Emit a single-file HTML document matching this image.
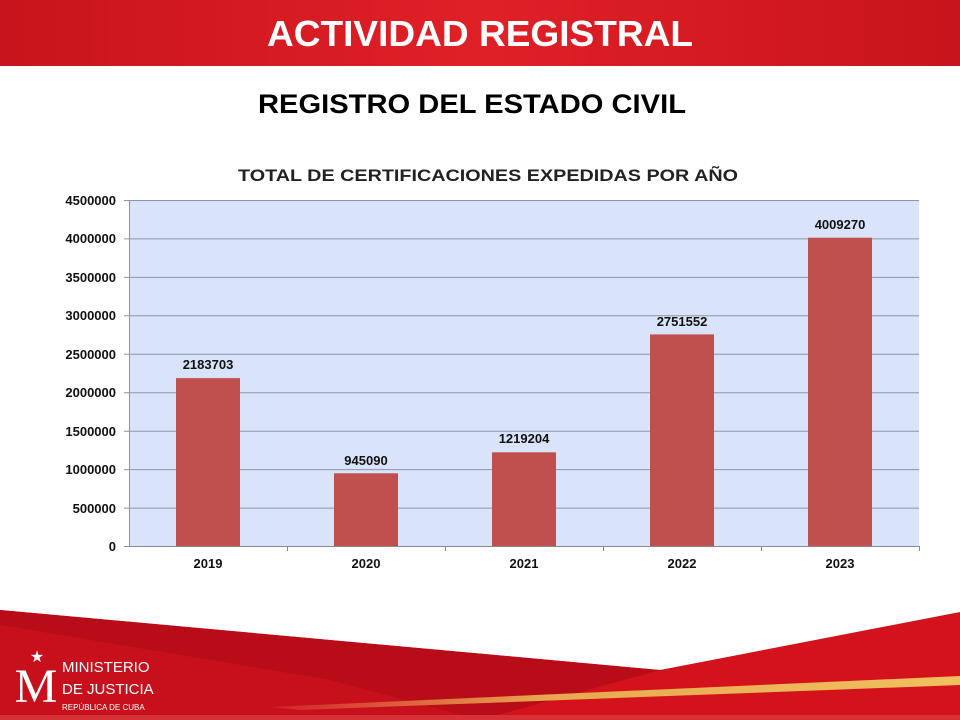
<!DOCTYPE html>
<html><head><meta charset="utf-8"><style>
body{margin:0;width:960px;height:720px;overflow:hidden;background:#fff;font-family:"Liberation Sans",Arial,sans-serif;position:relative}
</style></head><body>
<svg width="960" height="720" style="position:absolute;left:0;top:0">
<defs>
<linearGradient id="hd" x1="0" x2="1"><stop offset="0" stop-color="#c8141c"/><stop offset="0.5" stop-color="#e02027"/><stop offset="1" stop-color="#c8141c"/></linearGradient>
<linearGradient id="gold" x1="0" x2="1"><stop offset="0" stop-color="#d2202a"/><stop offset="0.4" stop-color="#e8a850"/><stop offset="1" stop-color="#f0c060"/></linearGradient>
</defs>
<rect x="0" y="0" width="960" height="66" fill="url(#hd)"/>
<text x="267" y="46" textLength="426" lengthAdjust="spacingAndGlyphs" font-size="36" font-weight="bold" fill="#fff">ACTIVIDAD REGISTRAL</text>
<text x="258" y="113" textLength="428" lengthAdjust="spacingAndGlyphs" font-size="27" font-weight="bold" fill="#000">REGISTRO DEL ESTADO CIVIL</text>
<text x="238" y="181" textLength="500" lengthAdjust="spacingAndGlyphs" font-size="17" font-weight="bold" fill="#222">TOTAL DE CERTIFICACIONES EXPEDIDAS POR AÑO</text>
<rect x="129" y="200" width="790" height="346" fill="#d9e4fb"/>
<g stroke="#8a96aa" stroke-width="1">
<line x1="124" x2="919" y1="200.5" y2="200.5"/><line x1="124" x2="919" y1="238.9" y2="238.9"/><line x1="124" x2="919" y1="277.4" y2="277.4"/><line x1="124" x2="919" y1="315.8" y2="315.8"/><line x1="124" x2="919" y1="354.3" y2="354.3"/><line x1="124" x2="919" y1="392.7" y2="392.7"/><line x1="124" x2="919" y1="431.2" y2="431.2"/><line x1="124" x2="919" y1="469.6" y2="469.6"/><line x1="124" x2="919" y1="508.1" y2="508.1"/>
<line x1="129.5" x2="129.5" y1="200" y2="546"/>
</g>
<g fill="#c0504d">
<rect x="176" y="378.1" width="64" height="167.9"/>
<rect x="334" y="473.3" width="64" height="72.7"/>
<rect x="492" y="452.3" width="64" height="93.7"/>
<rect x="650" y="334.4" width="64" height="211.6"/>
<rect x="808" y="237.7" width="64" height="308.3"/>
</g>
<g stroke="#888"><line x1="124" x2="919" y1="546.5" y2="546.5"/>
<line x1="287.5" x2="287.5" y1="546" y2="551"/><line x1="445.5" x2="445.5" y1="546" y2="551"/><line x1="603.5" x2="603.5" y1="546" y2="551"/><line x1="761.5" x2="761.5" y1="546" y2="551"/><line x1="919.5" x2="919.5" y1="546" y2="551"/></g>
<g font-size="13" font-weight="bold" fill="#111" text-anchor="end">
<text x="116" y="205">4500000</text><text x="116" y="243">4000000</text><text x="116" y="282">3500000</text><text x="116" y="320">3000000</text><text x="116" y="359">2500000</text><text x="116" y="397">2000000</text><text x="116" y="436">1500000</text><text x="116" y="474">1000000</text><text x="116" y="513">500000</text><text x="116" y="551">0</text>
</g>
<g font-size="13" font-weight="bold" fill="#111" text-anchor="middle">
<text x="208" y="568">2019</text><text x="366" y="568">2020</text><text x="524" y="568">2021</text><text x="682" y="568">2022</text><text x="840" y="568">2023</text>
<text x="208" y="369">2183703</text><text x="366" y="465">945090</text><text x="524" y="443">1219204</text><text x="682" y="326">2751552</text><text x="840" y="229">4009270</text>
</g>
<polygon points="0,610 660,670 960,612 960,720 0,720" fill="#d4121c"/>
<polygon points="0,610 660,670 480,720 0,720" fill="#b80d18"/>
<polygon points="0,625 330,680 480,720 0,720" fill="#c7101b"/>
<polygon points="270,707 960,676 960,685 300,710" fill="url(#gold)"/>
<rect x="0" y="715" width="960" height="5" fill="#d83038"/>
<text x="36" y="702" font-family="Liberation Serif,serif" font-size="48" fill="#fff" text-anchor="middle">M</text>
<text x="37" y="662" font-size="16" fill="#fff" text-anchor="middle">★</text>
<g fill="#fff"><text x="62" y="672" font-size="15">MINISTERIO</text><text x="62" y="694" font-size="15">DE JUSTICIA</text><text x="62" y="710" font-size="8">REPÚBLICA DE CUBA</text></g>
</svg>
</body></html>
